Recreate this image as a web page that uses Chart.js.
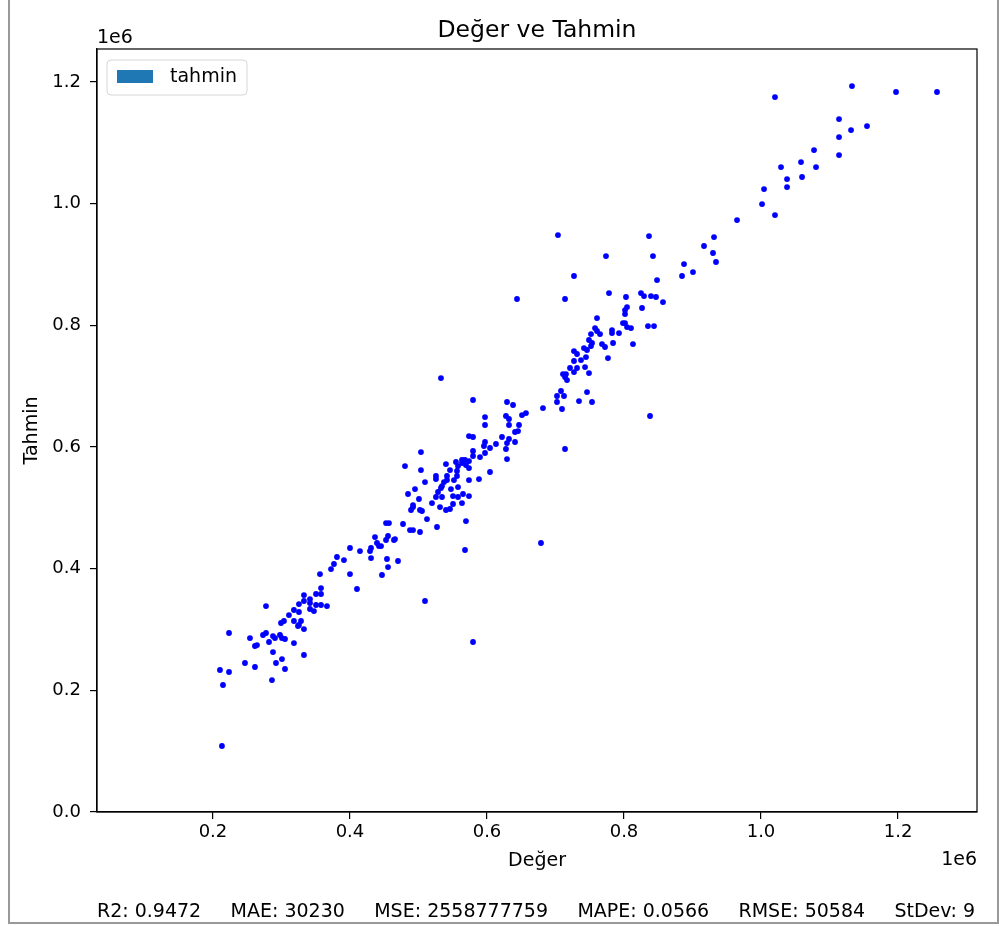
<!DOCTYPE html>
<html>
<head>
<meta charset="utf-8">
<script src="https://cdn.jsdelivr.net/npm/chart.js@4.4.0/dist/chart.umd.min.js"></script>
<style>
  body { margin: 0; background: #fff; }
  canvas { display: block; }
</style>
</head>
<body>
<canvas id="scatterChart" width="999" height="926"></canvas>
<script>
// gerçek değerler (Değer) ve model tahminleri (Tahmin)
const actual = [
  213100, 210200, 223400, 214600, 223400, 246700, 261300, 254000, 261300, 264200,
  273000, 277400, 277400, 281800, 287600, 290500, 287600, 286100, 292000, 297800,
  300700, 305100, 300700, 305100, 299300, 303600, 310900, 318200, 318200, 318200,
  325500, 325500, 324100, 325500, 328500, 332800, 332800, 332800, 332800, 341600,
  341600, 341600, 347400, 350400, 350400, 356200, 357700, 357700, 357700, 366400,
  372300, 376600, 391200, 400000, 410200, 381000, 400000, 414600, 429200, 430700,
  430700, 436500, 439400, 442300, 445300, 446700, 452600, 456900, 452600, 455500,
  454000, 455500, 464200, 465700, 470100, 477400, 487600, 492000, 502200, 509500,
  484700, 489100, 492000, 492000, 494900, 500700, 502200, 505100, 503600, 509500,
  512400, 519700, 525500, 525500, 527000, 528500, 531400, 534300, 534300, 537200,
  540100, 541600, 541600, 546000, 547400, 550400, 550400, 551800, 556200, 557700,
  557700, 563500, 565000, 567900, 569300, 573700, 573700, 588300, 604400, 579600,
  629200, 638000, 651100, 656900, 597100, 627700, 632100, 597100, 632100, 646700,
  645300, 640900, 573700, 579600, 621900, 632100, 629200, 640900, 597100, 595600,
  604400, 613100, 627700, 579600, 597100, 503600, 579600, 589800, 629200, 563500,
  567900, 573700, 554700, 563500, 569300, 540100, 557700, 573700, 480300, 546000,
  556200, 525500, 532800, 716800, 708000, 702200, 712400, 746000, 702200, 734300,
  753300, 709500, 681700, 838000, 713900, 678800, 703600, 836500, 931400, 916800,
  929900, 934300, 773700, 842300, 887600, 900700, 884700, 727000, 848200, 713900,
  778100, 802900, 824800, 829200, 839400, 846700, 856900, 826300, 804400, 801500,
  801500, 760600, 798500, 801500, 804400, 810200, 835000, 843800, 757700, 760600,
  765000, 751800, 782500, 782500, 792700, 748900, 753300, 751800, 767900, 772300,
  784000, 813100, 741600, 746000, 727000, 731400, 744500, 737200, 727000, 776600,
  721200, 731400, 743100, 727000, 748900, 710900, 715300, 713900, 965000, 1132800,
  1197100, 1256900, 1020400, 1113900, 1154700, 1131400, 1113900, 1077400, 1058400, 1113900,
  1029200, 1080300, 1038000, 1059900, 1038000, 1004400, 1001500, 1020400, 643800, 532800,
  579600
];
const predicted = [
  108500, 233400, 230100, 208700, 294200, 244900, 238300, 285900, 272800, 274400,
  290900, 294200, 338500, 279400, 289200, 285900, 262900, 216900, 244900, 290900,
  285900, 284300, 251400, 235000, 310600, 313900, 323700, 332000, 313900, 277700,
  341800, 328700, 305700, 307300, 313900, 356600, 346800, 300700, 258000, 350000,
  343500, 333600, 330300, 358300, 340200, 391100, 368100, 358300, 340200, 338500,
  399300, 407600, 414100, 391100, 366500, 419100, 433900, 428900, 428900, 433900,
  417400, 451900, 442100, 437100, 437100, 389500, 474900, 474900, 447000, 453600,
  415800, 402600, 447000, 448600, 412500, 473300, 463400, 463400, 460200, 346800,
  522600, 496300, 504500, 501200, 530800, 514400, 496300, 494700, 562000, 542300,
  481500, 507800, 552200, 517700, 468400, 525900, 501200, 535700, 517700, 542300,
  496300, 552200, 545600, 498000, 530800, 519300, 506200, 545600, 552200, 534100,
  517700, 507800, 522600, 430600, 478200, 545600, 519300, 547200, 558800, 677100,
  673800, 668900, 652400, 655700, 649100, 650800, 645900, 636000, 636000, 636000,
  626100, 624500, 617900, 616300, 616300, 613000, 606400, 608100, 608100, 601500,
  598200, 604800, 596600, 593300, 590000, 591600, 585100, 583400, 580100, 578500,
  578500, 576800, 575200, 573500, 570200, 571900, 568600, 565300, 568600, 562000,
  560400, 547200, 532500, 709900, 691900, 683700, 683700, 690200, 673800, 675400,
  673800, 662300, 663900, 650800, 596600, 442100, 948200, 946600, 944900, 930200,
  918700, 903900, 913700, 913700, 900600, 887400, 880900, 880900, 874300, 843100,
  852900, 846400, 852900, 848000, 848000, 846400, 838100, 828300, 829900, 825000,
  818400, 811800, 803600, 803600, 797000, 795400, 798700, 798700, 795400, 790500,
  785500, 785500, 792100, 787200, 787200, 775700, 770800, 765800, 769100, 764200,
  770800, 769100, 762500, 759300, 757600, 752700, 747700, 742800, 741200, 746100,
  729700, 729700, 731300, 723100, 721400, 719800, 719800, 714800, 972900, 1193000,
  1183300, 1183300, 1175000, 1138900, 1127400, 1120800, 1109300, 1087900, 1068200, 1079700,
  1060000, 1060000, 1040300, 1043600, 1027100, 1023800, 999100, 981100, 843100, 713200,
  279400
];
const xTicks = [200000, 400000, 600000, 800000, 1000000, 1200000];
const yTicks = [0, 200000, 400000, 600000, 800000, 1000000, 1200000];
const metrics = ["R2: 0.9472", "MAE: 30230", "MSE: 2558777759", "MAPE: 0.0566", "RMSE: 50584", "StDev: 9"];

const FONT = "'DejaVu Sans', sans-serif";
const fmt = v => (v / 1e6).toFixed(1);

// başlık, 1e6 ofsetleri, lejant, alt metin ve çerçeve
const decorations = {
  id: "decorations",
  beforeDraw(chart) {
    const ctx = chart.ctx;
    ctx.save();
    ctx.fillStyle = "#fff";
    ctx.fillRect(0, 0, chart.width, chart.height);
    ctx.restore();
  },
  afterDraw(chart) {
    const { ctx, chartArea: a } = chart;
    ctx.save();

    // eksen kutusu
    ctx.strokeStyle = "#000";
    ctx.lineWidth = 1.2;
    ctx.strokeRect(a.left, a.top, a.right - a.left, a.bottom - a.top);

    ctx.fillStyle = "#000";
    ctx.textBaseline = "alphabetic";
    ctx.font = "23.5px " + FONT;
    ctx.textAlign = "center";
    ctx.fillText("Değer ve Tahmin", (a.left + a.right) / 2, 37);

    ctx.font = "19px " + FONT;
    ctx.textAlign = "left";
    ctx.fillText("1e6", a.left, 43);
    ctx.textAlign = "right";
    ctx.fillText("1e6", a.right, 865);

    // lejant
    ctx.beginPath();
    ctx.roundRect(a.left + 10, a.top + 11, 140, 35, 4);
    ctx.fillStyle = "rgba(255,255,255,0.8)";
    ctx.fill();
    ctx.strokeStyle = "#d6d6d6";
    ctx.lineWidth = 1;
    ctx.stroke();
    ctx.fillStyle = "#1f77b4";
    ctx.fillRect(a.left + 20, a.top + 21, 36, 13);
    ctx.fillStyle = "#000";
    ctx.textAlign = "left";
    ctx.textBaseline = "middle";
    ctx.fillText("tahmin", a.left + 73, a.top + 28);

    // metrikler: eksen genişliği boyunca eşit aralıklı
    ctx.textBaseline = "alphabetic";
    const widths = metrics.map(m => ctx.measureText(m).width);
    const gap = (975 - a.left - widths.reduce((s, w) => s + w, 0)) / (metrics.length - 1);
    let x = a.left;
    metrics.forEach((m, i) => {
      ctx.fillText(m, x, 917);
      x += widths[i] + gap;
    });

    // dış çerçeve
    ctx.strokeStyle = "#999";
    ctx.lineWidth = 2;
    ctx.strokeRect(9, -5, 989, 928);
    ctx.restore();
  }
};

new Chart(document.getElementById("scatterChart"), {
  type: "scatter",
  data: {
    datasets: [
      {
        label: "tahmin",
        data: actual.map((v, i) => ({ x: v, y: predicted[i] })),
        backgroundColor: "#0000ff",
        borderWidth: 0,
        pointRadius: 2.9,
        pointHoverRadius: 2.9,
      },
    ],
  },
  options: {
    responsive: false,
    animation: false,
    devicePixelRatio: 1,
    layout: { padding: { left: 21, top: 49, right: 22, bottom: 54 } },
    plugins: { legend: { display: false }, tooltip: { enabled: false } },
    scales: {
      x: {
        type: "linear",
        min: 30700,
        max: 1315300,
        afterBuildTicks: s => { s.ticks = xTicks.map(v => ({ value: v })); },
        afterFit: s => { s.height = 60; },
        ticks: { callback: fmt, color: "#000", font: { family: FONT, size: 18 }, padding: 3, maxRotation: 0 },
        grid: { drawOnChartArea: false, color: "#000", lineWidth: 1.2, tickLength: 7 },
        border: { color: "#000", width: 1.2 },
        title: { display: true, text: "Değer", color: "#000", font: { family: FONT, size: 19 }, padding: 0 },
      },
      y: {
        type: "linear",
        min: 0,
        max: 1254000,
        afterBuildTicks: s => { s.ticks = yTicks.map(v => ({ value: v })); },
        afterFit: s => { s.width = 76; },
        ticks: { callback: fmt, color: "#000", font: { family: FONT, size: 18 }, padding: 9 },
        grid: { drawOnChartArea: false, color: "#000", lineWidth: 1.2, tickLength: 7 },
        border: { color: "#000", width: 1.2 },
        title: { display: true, text: "Tahmin", color: "#000", font: { family: FONT, size: 19 }, padding: 0 },
      },
    },
  },
  plugins: [decorations],
});
</script>
</body>
</html>
